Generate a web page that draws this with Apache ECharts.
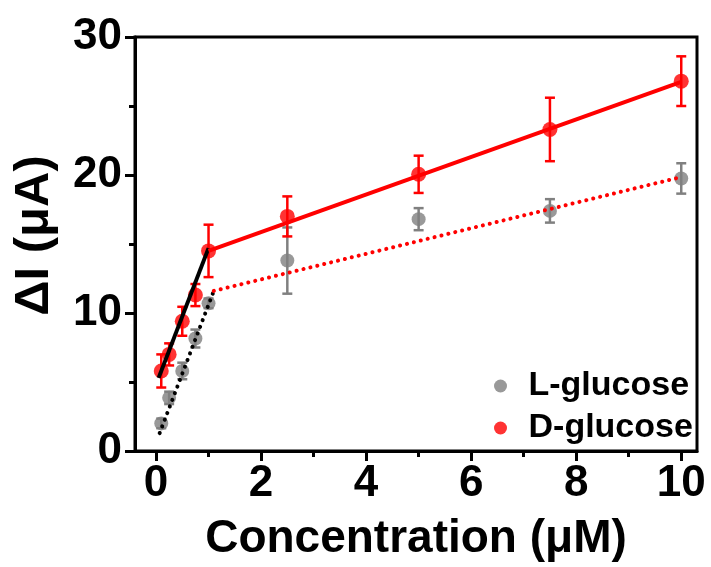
<!DOCTYPE html>
<html>
<head>
<meta charset="utf-8">
<script src="https://cdn.jsdelivr.net/npm/echarts@6/dist/echarts.min.js"></script>
<style>
html,body{margin:0;padding:0;background:#fff;}
#chart{width:711px;height:567px;}
</style>
</head>
<body>
<div id="chart"></div>
<script>
// ---- data ----
const concentrations = [0.1, 0.25, 0.5, 0.75, 1, 2.5, 5, 7.5, 10];
const lGlucose = [2.0, 3.85, 5.8, 8.15, 10.7, 13.8, 16.8, 17.4, 19.75];
const lError   = [0.35, 0.45, 0.6, 0.65, 0.35, 2.4, 0.8, 0.85, 1.1];
const dGlucose = [5.8, 7.0, 9.4, 11.3, 14.5, 17.0, 20.05, 23.3, 26.8];
const dError   = [1.2, 0.8, 1.05, 0.8, 1.9, 1.45, 1.35, 2.3, 1.8];

// linear fit segments [x, y]
const dFitLow  = [[0.05, 5.3], [1.0, 14.7]];
const dFitHigh = [[1.0, 14.5], [10, 26.75]];
const lFitLow  = [[0.07, 1.3], [1.1, 11.6]];
const lFitHigh = [[1.1, 11.6], [10, 19.85]];

const xMajorTicks = [0, 2, 4, 6, 8, 10];
const xMinorTicks = [1, 3, 5, 7, 9];
const seriesNames = ['L-glucose', 'D-glucose'];
const xTitle = 'Concentration (\u03bcM)';
const yTitle = '\u0394I (\u03bcA)';

// ---- chart ----
const FONT = 'Arial, "Liberation Sans", sans-serif';
const RED = '#ff0000', GRAY = '#808080';

function errorSeries(vals, errs, color) {
  return {
    type: 'custom',
    silent: true,
    z: 3,
    data: concentrations.map((c, i) => [c, vals[i], errs[i]]),
    renderItem: function (params, api) {
      const x = api.value(0), y = api.value(1), e = api.value(2);
      const t = api.coord([x, y + e]);
      const b = api.coord([x, y - e]);
      const hw = 5;
      const st = { stroke: color, lineWidth: 2.5 };
      return {
        type: 'group',
        children: [
          { type: 'line', shape: { x1: t[0], y1: t[1], x2: b[0], y2: b[1] }, style: st },
          { type: 'line', shape: { x1: t[0] - hw, y1: t[1], x2: t[0] + hw, y2: t[1] }, style: st },
          { type: 'line', shape: { x1: b[0] - hw, y1: b[1], x2: b[0] + hw, y2: b[1] }, style: st }
        ]
      };
    }
  };
}

function fitLine(pts, color, dotted) {
  return {
    type: 'line',
    silent: true,
    z: 5,
    symbol: 'none',
    data: pts,
    lineStyle: dotted
      ? { color: color, width: 4, type: [0.1, 7], cap: 'round' }
      : { color: color, width: 4 }
  };
}

const chart = echarts.init(document.getElementById('chart'), null, { renderer: 'canvas' });
chart.setOption({
  animation: false,
  backgroundColor: '#fff',
  textStyle: { fontFamily: FONT },
  grid: {
    left: 135, right: 14, top: 37, bottom: 108,
    show: true, borderColor: '#000', borderWidth: 3, backgroundColor: 'transparent'
  },
  legend: {
    data: seriesNames,
    orient: 'vertical',
    left: 489,
    top: 364,
    itemWidth: 46,
    itemHeight: 13,
    itemGap: 8,
    icon: 'circle',
    textStyle: { fontFamily: FONT, fontWeight: 'bold', fontSize: 34, color: '#000' }
  },
  xAxis: [
    {
      type: 'value',
      min: -0.4, max: 10.3,
      name: xTitle,
      nameLocation: 'middle',
      nameGap: 65,
      nameTextStyle: { fontFamily: FONT, fontWeight: 'bold', fontSize: 46, color: '#000' },
      axisLine: { show: true, onZero: false, lineStyle: { color: '#000', width: 3 } },
      axisTick: { show: true, customValues: xMajorTicks, length: 10, lineStyle: { color: '#000', width: 3 } },
      axisLabel: { customValues: xMajorTicks, margin: 11, fontFamily: FONT, fontWeight: 'bold', fontSize: 44, color: '#000' },
      splitLine: { show: false }
    },
    {
      type: 'value',
      position: 'bottom',
      min: -0.4, max: 10.3,
      axisLine: { show: false, onZero: false },
      axisTick: { show: true, customValues: xMinorTicks, length: 6, lineStyle: { color: '#000', width: 3 } },
      axisLabel: { show: false },
      splitLine: { show: false }
    }
  ],
  yAxis: {
    type: 'value',
    min: 0, max: 30, interval: 10,
    name: yTitle,
    nameLocation: 'middle',
    nameGap: 76,
    nameTextStyle: { fontFamily: FONT, fontWeight: 'bold', fontSize: 49, color: '#000', padding: [0, 0, 0, 17] },
    axisLine: { show: true, onZero: false, lineStyle: { color: '#000', width: 3 } },
    axisTick: { show: true, length: 10, lineStyle: { color: '#000', width: 3 } },
    minorTick: { show: true, splitNumber: 2, length: 6, lineStyle: { color: '#000', width: 3 } },
    axisLabel: { margin: 13, fontFamily: FONT, fontWeight: 'bold', fontSize: 44, color: '#000' },
    splitLine: { show: false }
  },
  series: [
    errorSeries(lGlucose, lError, GRAY),
    {
      name: seriesNames[0], type: 'scatter', z: 4,
      symbol: 'circle', symbolSize: 14,
      itemStyle: { color: GRAY },
      data: concentrations.map((c, i) => [c, lGlucose[i]])
    },
    errorSeries(dGlucose, dError, RED),
    {
      name: seriesNames[1], type: 'scatter', z: 4,
      symbol: 'circle', symbolSize: 15,
      itemStyle: { color: RED },
      data: concentrations.map((c, i) => [c, dGlucose[i]])
    },
    fitLine(lFitLow, '#000', true),
    fitLine(lFitHigh, RED, true),
    fitLine(dFitLow, '#000', false),
    fitLine(dFitHigh, RED, false)
  ]
});
</script>
</body>
</html>
